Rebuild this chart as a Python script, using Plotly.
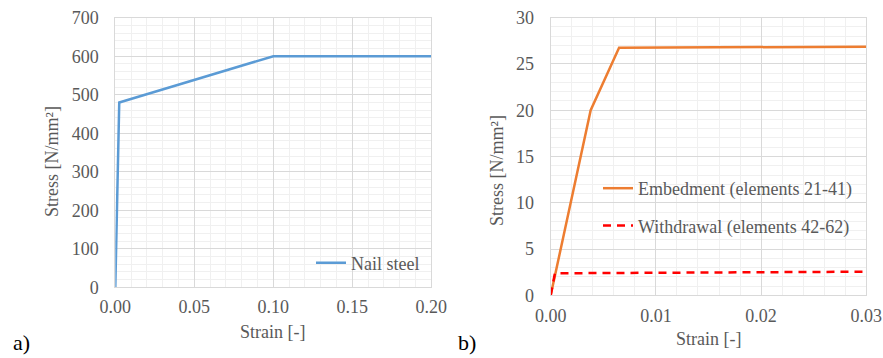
import plotly.graph_objects as go

# Left chart: nail steel
steel_strain = [0.0, 0.0025, 0.10, 0.20]
steel_stress = [0, 480, 600, 600]

# Right chart
emb_strain = [0.0, 0.0038, 0.0065, 0.03]
emb_stress = [0.0, 20.0, 26.75, 26.87]
wd_strain = [0.0, 0.0004, 0.03]
wd_stress = [0.0, 2.38, 2.55]

W, H = 883, 358
FONT = "Liberation Serif"
GRAY = "#595959"
FS = 18

def px(x):
    return x / W

def py(y):
    return 1 - y / H

fig = go.Figure()
fig.add_trace(go.Scatter(x=steel_strain, y=steel_stress, mode="lines", name="Nail steel",
                         line=dict(color="#5B9BD5", width=2.5), xaxis="x", yaxis="y", legend="legend"))
fig.add_trace(go.Scatter(x=emb_strain, y=emb_stress, mode="lines", name="Embedment (elements 21-41)",
                         line=dict(color="#ED7D31", width=2.5), xaxis="x2", yaxis="y2", legend="legend2",
                         legendgroup="g1"))
fig.add_trace(go.Scatter(x=wd_strain, y=wd_stress, mode="lines", name="Withdrawal (elements 42-62)",
                         line=dict(color="#FF0000", width=2.5, dash="8px,6px"), xaxis="x2", yaxis="y2", legend="legend2",
                         legendgroup="g2"))

axis_common = dict(showgrid=True, gridcolor="#d9d9d9", gridwidth=1, zeroline=False,
                   showline=True, mirror=True, linecolor="#d9d9d9", linewidth=1,
                   ticks="", automargin=False, ticklabeloverflow="allow",
                   tickfont=dict(family=FONT, size=FS, color=GRAY))

fig.update_layout(
    width=W, height=H,
    margin=dict(l=0, r=0, t=0, b=0),
    paper_bgcolor="white", plot_bgcolor="white",
    font=dict(family=FONT, color=GRAY),
    xaxis=dict(domain=[px(115.3), px(431.3)], range=[0, 0.2], dtick=0.05, tickformat=".2f",
               minor=dict(dtick=0.01, showgrid=True, gridcolor="#f0f0f0"),
               anchor="y", ticklabelstandoff=3, **axis_common),
    yaxis=dict(domain=[py(287.3), py(17.7)], range=[0, 700], dtick=100,
               minor=dict(dtick=20, showgrid=True, gridcolor="#f0f0f0"),
               anchor="x", ticklabelstandoff=12, **axis_common),
    xaxis2=dict(domain=[px(550.7), px(866.3)], range=[0, 0.03], dtick=0.01, tickformat=".2f",
                minor=dict(dtick=0.002, showgrid=True, gridcolor="#f0f0f0"),
                anchor="y2", ticklabelstandoff=4, **axis_common),
    yaxis2=dict(domain=[py(295.3), py(17.7)], range=[0, 30], dtick=5,
                minor=dict(dtick=1, showgrid=True, gridcolor="#f0f0f0"),
                anchor="x2", ticklabelstandoff=12, **axis_common),
    legend=dict(x=px(311), y=py(263), xanchor="left", yanchor="middle",
                bgcolor="rgba(0,0,0,0)", font=dict(family=FONT, size=FS, color=GRAY)),
    legend2=dict(x=px(598), y=py(207), xanchor="left", yanchor="middle",
                 bgcolor="rgba(0,0,0,0)", font=dict(family=FONT, size=FS, color=GRAY),
                 tracegroupgap=11),
    showlegend=True,
)

ann_common = dict(xref="paper", yref="paper", showarrow=False, xanchor="center", yanchor="middle")
annotations = [
    dict(text="Strain [-]", x=px(272.7), y=py(332),
         font=dict(family=FONT, size=FS, color=GRAY), **ann_common),
    dict(text="Stress [N/mm²]", x=px(52), y=py(162), textangle=-90,
         font=dict(family=FONT, size=FS, color=GRAY), **ann_common),
    dict(text="Strain [-]", x=px(708), y=py(339),
         font=dict(family=FONT, size=FS, color=GRAY), **ann_common),
    dict(text="Stress [N/mm²]", x=px(497), y=py(170), textangle=-90,
         font=dict(family=FONT, size=FS, color=GRAY), **ann_common),
    dict(text="a)", x=px(21), y=py(342),
         font=dict(family=FONT, size=22, color="black"), **ann_common),
    dict(text="b)", x=px(467), y=py(342),
         font=dict(family=FONT, size=22, color="black"), **ann_common),
]
fig.update_layout(annotations=annotations)

fig.write_html("out.html", config={"displayModeBar": False},
               post_script="document.body.style.margin='0';document.body.style.overflow='hidden';")
